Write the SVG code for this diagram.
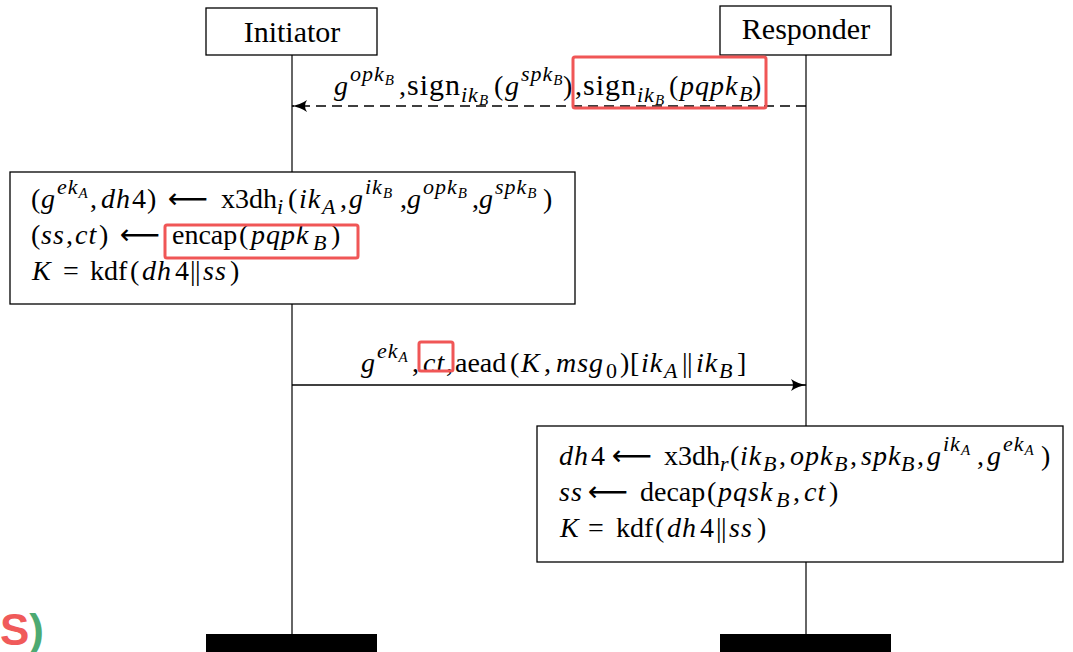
<svg xmlns="http://www.w3.org/2000/svg" width="1073" height="652" viewBox="0 0 1073 652">
<style>
.box{fill:#fff;stroke:#000;stroke-width:1.3}
.life{stroke:#333;stroke-width:1.5;fill:none}
.lbl{font-family:"Liberation Serif",serif;font-size:30px;fill:#000}
.t{font-family:"Liberation Serif","DejaVu Serif",serif;font-size:28px;fill:#000}
.i{font-style:italic;letter-spacing:1px}
.sp{font-size:22px}
.ssp{font-size:15px;letter-spacing:0}
.fn{font-size:30px;letter-spacing:1px}
.bar{letter-spacing:-0.5px}
.ar{font-family:"DejaVu Sans",sans-serif;font-size:28px;letter-spacing:0}
.hl{fill:none;stroke:#f05656;stroke-width:3}
.end{fill:#000}
.msg{stroke:#000;stroke-width:1.3;fill:none}
</style>
<defs>
<marker id="head" viewBox="0 0 16 12" refX="15" refY="6" markerWidth="16" markerHeight="12" markerUnits="userSpaceOnUse" orient="auto">
<path d="M0,0 Q7,5 16,6 Q7,7 0,12 Q4,6 0,0 Z" fill="#000"/>
</marker>
</defs>
<rect fill="#fff" width="1073" height="652"/>

<!-- lifelines -->
<g id="lifelines">
<line class="life" x1="292" y1="55" x2="292" y2="634"/>
<line class="life" x1="806" y1="55" x2="806" y2="634"/>
</g>

<g id="initiator">
<rect class="box" x="206" y="8" width="171" height="47"/>
<text class="lbl" x="292" y="42" text-anchor="middle">Initiator</text>
<rect class="end" x="206" y="634" width="171" height="20"/>
</g>

<g id="responder">
<rect class="box" x="720" y="6" width="171" height="49"/>
<text class="lbl" x="806" y="39" text-anchor="middle">Responder</text>
<rect class="end" x="720" y="634" width="171" height="20"/>
</g>

<!-- messages -->
<g id="connectors">
<line class="msg" x1="806" y1="106" x2="292" y2="106" stroke-dasharray="10,6" marker-end="url(#head)"/>
<line class="msg" x1="292" y1="385" x2="806" y2="385" marker-end="url(#head)"/>
</g>

<g id="msg1-label">
<text class="t" y="95"><tspan class="i" x="334">g</tspan><tspan class="i sp" x="350" dy="-14">opk</tspan><tspan class="i ssp" dy="4">B</tspan><tspan x="399" dy="10">,</tspan><tspan class="fn" x="407">sign</tspan><tspan class="i sp" x="461" dy="7">ik</tspan><tspan class="i ssp" dy="3">B</tspan><tspan x="494" dy="-10">(</tspan><tspan class="i" x="505">g</tspan><tspan class="i sp" x="521" dy="-14">spk</tspan><tspan class="i ssp" dy="4">B</tspan><tspan x="563" dy="10">)</tspan><tspan x="575">,</tspan><tspan class="fn" x="583">sign</tspan><tspan class="i sp" x="637" dy="7">ik</tspan><tspan class="i ssp" dy="3">B</tspan><tspan x="669" dy="-10">(</tspan><tspan class="i" x="680">pqpk</tspan><tspan class="i sp" x="739" dy="6">B</tspan><tspan x="752" dy="-6">)</tspan></text>
<rect class="hl" x="573" y="57" width="193" height="51" rx="2"/>
</g>

<g id="initiator-compute">
<rect class="box" x="10" y="172" width="565" height="132"/>
<text class="t" y="208"><tspan x="31">(</tspan><tspan class="i" x="41">g</tspan><tspan class="i sp" x="57" dy="-14">ek</tspan><tspan class="i ssp" dy="4">A</tspan><tspan x="90" dy="10">,</tspan><tspan class="i" x="101">dh</tspan><tspan x="132">4</tspan><tspan x="147">)</tspan><tspan class="ar" x="168">⟵</tspan><tspan x="221">x3dh</tspan><tspan class="i sp" x="277" dy="6">i</tspan><tspan x="288" dy="-6">(</tspan><tspan class="i" x="299">ik</tspan><tspan class="i sp" x="322" dy="6">A</tspan><tspan x="340" dy="-6">,</tspan><tspan class="i" x="349">g</tspan><tspan class="i sp" x="365" dy="-14">ik</tspan><tspan class="i ssp" dy="4">B</tspan><tspan x="400" dy="10">,</tspan><tspan class="i" x="407">g</tspan><tspan class="i sp" x="423" dy="-14">opk</tspan><tspan class="i ssp" dy="4">B</tspan><tspan x="472" dy="10">,</tspan><tspan class="i" x="479">g</tspan><tspan class="i sp" x="495" dy="-14">spk</tspan><tspan class="i ssp" dy="4">B</tspan><tspan x="543" dy="10">)</tspan></text>
<text class="t" y="244"><tspan x="31">(</tspan><tspan class="i" x="41">ss</tspan><tspan x="66">,</tspan><tspan class="i" x="75">ct</tspan><tspan x="99">)</tspan><tspan class="ar" x="120">⟵</tspan><tspan x="172">encap</tspan><tspan x="239">(</tspan><tspan class="i" x="251">pqpk</tspan><tspan class="i sp" x="313" dy="6">B</tspan><tspan x="331" dy="-6">)</tspan></text>
<text class="t" y="280"><tspan class="i" x="32">K</tspan><tspan x="63">=</tspan><tspan x="90">kdf</tspan><tspan x="130">(</tspan><tspan class="i" x="142">dh</tspan><tspan x="175">4</tspan><tspan class="bar" x="190">||</tspan><tspan class="i" x="203">ss</tspan><tspan x="230">)</tspan></text>
<rect class="hl" x="165" y="225" width="193" height="33" rx="2"/>
</g>

<g id="msg2-label">
<text class="t" y="372"><tspan class="i" x="361">g</tspan><tspan class="i sp" x="377" dy="-14">ek</tspan><tspan class="i ssp" dy="4">A</tspan><tspan x="412" dy="10">,</tspan><tspan class="i" x="423">ct</tspan><tspan x="446">,</tspan><tspan x="455">aead</tspan><tspan x="510">(</tspan><tspan class="i" x="521">K</tspan><tspan x="544">,</tspan><tspan class="i" x="556">msg</tspan><tspan class="sp" x="606" dy="6">0</tspan><tspan x="620" dy="-6">)</tspan><tspan x="630">[</tspan><tspan class="i" x="641">ik</tspan><tspan class="i sp" x="664" dy="6">A</tspan><tspan class="bar" x="682" dy="-6">||</tspan><tspan class="i" x="696">ik</tspan><tspan class="i sp" x="719" dy="6">B</tspan><tspan x="737" dy="-6">]</tspan></text>
<rect class="hl" x="419" y="342" width="34" height="29" rx="2"/>
</g>

<g id="responder-compute">
<rect class="box" x="537" y="426" width="526" height="136"/>
<text class="t" y="465"><tspan class="i" x="559">dh</tspan><tspan x="591">4</tspan><tspan class="ar" x="612">⟵</tspan><tspan x="664">x3dh</tspan><tspan class="i sp" x="720" dy="6">r</tspan><tspan x="730" dy="-6">(</tspan><tspan class="i" x="740">ik</tspan><tspan class="i sp" x="763" dy="6">B</tspan><tspan x="779" dy="-6">,</tspan><tspan class="i" x="790">opk</tspan><tspan class="i sp" x="834" dy="6">B</tspan><tspan x="850" dy="-6">,</tspan><tspan class="i" x="861">spk</tspan><tspan class="i sp" x="901" dy="6">B</tspan><tspan x="917" dy="-6">,</tspan><tspan class="i" x="927">g</tspan><tspan class="i sp" x="943" dy="-14">ik</tspan><tspan class="i ssp" dy="4">A</tspan><tspan x="977" dy="10">,</tspan><tspan class="i" x="987">g</tspan><tspan class="i sp" x="1003" dy="-14">ek</tspan><tspan class="i ssp" dy="4">A</tspan><tspan x="1041" dy="10">)</tspan></text>
<text class="t" y="501"><tspan class="i" x="559">ss</tspan><tspan class="ar" x="588">⟵</tspan><tspan x="640">decap</tspan><tspan x="707">(</tspan><tspan class="i" x="718">pqsk</tspan><tspan class="i sp" x="776" dy="6">B</tspan><tspan x="793" dy="-6">,</tspan><tspan class="i" x="804">ct</tspan><tspan x="829">)</tspan></text>
<text class="t" y="537"><tspan class="i" x="560">K</tspan><tspan x="588">=</tspan><tspan x="616">kdf</tspan><tspan x="655">(</tspan><tspan class="i" x="667">dh</tspan><tspan x="700">4</tspan><tspan class="bar" x="716">||</tspan><tspan class="i" x="729">ss</tspan><tspan x="757">)</tspan></text>
</g>

<!-- partial caption at the lower left -->
<text x="44" y="645" text-anchor="end" font-family="Liberation Sans, sans-serif" font-weight="bold" font-size="44"><tspan fill="#f05a5a">S</tspan><tspan fill="#4daa72">)</tspan></text>
</svg>
